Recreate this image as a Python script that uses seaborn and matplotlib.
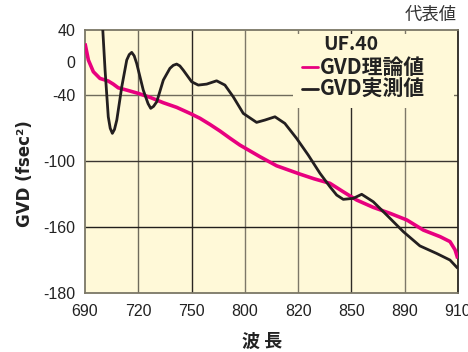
import numpy as np
import pandas as pd
import seaborn as sns
import matplotlib.pyplot as plt
from matplotlib.patches import Rectangle
from matplotlib.lines import Line2D

# Tick labels (the axes are not linear: labels sit on an even grid)
x_ticks = [690, 720, 750, 800, 820, 850, 890, 910]
y_ticks = [-180, -160, -100, -40, 0, 40]
y_tick_pos = [0, 1, 2, 3, 3.5, 4]

# GVD theory (magenta)
theory_wl = [690.0, 691.9, 694.7, 698.4, 703.1, 705.9, 708.7, 713.5, 720.0, 726.6,
             734.1, 741.6, 749.1, 757.9, 767.3, 776.7, 786.0, 795.4, 805.7, 811.9, 821.0,
             829.0, 837.9, 845.4, 853.9, 866.4, 878.9, 890.8, 897.0, 903.3, 907.0, 908.9,
             909.9]
theory_gvd = [23.1, 2.9, -11.3, -19.4, -22.6, -26.3, -30.8, -33.6, -37.6, -41.8,
              -46.7, -50.9, -56.4, -60.9, -66.5, -72.5, -79.0, -85.3, -95.9, -104.1, -111.7,
              -116.0, -120.1, -127.8, -135.3, -142.0, -147.4, -153.5, -160.9, -162.9, -164.4, -166.9,
              -169.5]

# GVD measured (black)
meas_wl = [700.0, 701.3, 703.1, 704.2, 705.4, 706.6, 707.9, 710.7, 713.5, 714.9,
           716.3, 717.7, 719.1, 722.8, 725.5, 727.0, 728.6, 730.4, 734.1, 737.8,
           739.7, 741.6, 743.4, 745.3, 750.1, 756.3, 764.2, 773.5, 781.3, 789.1,
           798.5, 804.4, 807.5, 811.3, 815.0, 819.4, 825.7, 832.3, 837.9, 841.7,
           845.4, 851.4, 857.7, 866.4, 876.5, 889.0, 895.7, 902.0, 907.0, 909.9]
meas_gvd = [40.0, -9.3, -59.5, -70.0, -74.6, -71.0, -62.5, -29.6, 2.9, 9.5,
            12.2, 8.0, -1.2, -33.6, -47.5, -51.8, -50.0, -45.8, -21.4, -7.2,
            -3.5, -2.0, -4.2, -9.3, -23.5, -27.5, -26.3, -22.3, -27.5, -41.3,
            -56.4, -64.6, -62.5, -59.5, -65.5, -79.1, -94.4, -111.0, -123.2, -130.8,
            -134.7, -133.8, -130.1, -136.9, -149.0, -161.4, -165.7, -168.0, -170.0, -172.5]


def to_pos(wl, gvd):
    xp = np.interp(wl, x_ticks, range(len(x_ticks)))
    yp = np.interp(gvd, y_ticks, y_tick_pos)
    return xp, yp


sns.set_theme(style="white")
plt.rcParams["font.family"] = ["Liberation Sans", "DejaVu Sans"]
cjk = ["Noto Sans CJK JP", "DejaVu Sans"]
bg = "#FFF9D8"

fig = plt.figure(figsize=(4.68, 3.52), dpi=100)
ax = fig.add_axes([85 / 468, 1 - 293 / 352, 373 / 468, 263.5 / 352])
ax.set_facecolor(bg)

# grid, drawn by hand (no line at the "0" label)
vcols = ["#6f6b5c", "#2a2622", "#7d7868", "#7d7868", "#2f2b26", "#7d7868"]
for i, c in enumerate(vcols, start=1):
    ax.axvline(i, color=c, lw=1.0, zorder=1)
hcols = {1: "#221f1c", 2: "#3a3630", 3: "#6f6b5c"}
for yv, c in hcols.items():
    ax.axhline(yv, color=c, lw=1.0, zorder=1)

# legend area hides the grid
ax.add_patch(Rectangle((0.558, 0.702), 0.43, 0.28, transform=ax.transAxes,
                       facecolor=bg, edgecolor="none", zorder=1.5))

tx, ty = to_pos(theory_wl, theory_gvd)
mx, my = to_pos(meas_wl, meas_gvd)
sns.lineplot(x=tx, y=ty, ax=ax, color="#E8007F", lw=2.6, estimator=None, sort=False, zorder=3)
sns.lineplot(x=mx, y=my, ax=ax, color="#231F20", lw=2.0, estimator=None, sort=False, zorder=4)
for ln in ax.get_lines():
    ln.set_solid_joinstyle("round")
    ln.set_solid_capstyle("butt")

ax.set_xlim(0, len(x_ticks) - 1)
ax.set_ylim(0, 4)
ax.set_xticks(range(len(x_ticks)))
ax.set_xticklabels([str(v) for v in x_ticks])
ax.set_yticks(y_tick_pos)
ax.set_yticklabels([str(v) for v in y_ticks])
ax.tick_params(axis="x", length=0, pad=8, labelsize=11.5, labelcolor="#222222")
ax.tick_params(axis="y", length=0, pad=7, labelsize=11.5, labelcolor="#222222")
ax.grid(False)
for side, sp in ax.spines.items():
    sp.set_visible(True)
    sp.set_color("#7b7766")
    sp.set_linewidth(1.3)
ax.spines["right"].set_color("#2a2622")

# labels
fig.text(25 / 468, 1 - 174 / 352, "GVD (fsec²)", rotation=90, ha="center", va="center",
         fontsize=12, fontweight="bold", family=["DejaVu Sans"], color="#222222")
fig.text(262 / 468, 1 - 341 / 352, "波 長", ha="center", va="center",
         fontsize=13, fontweight="bold", family=cjk, color="#222222")
fig.text(457 / 468, 1 - 15 / 352, "代表値", ha="right", va="center",
         fontsize=12.5, family=cjk, color="#333333")

# legend block
fig.text(323 / 468, 1 - 45 / 352, "UF.40", ha="left", va="center",
         fontsize=14, fontweight="bold", family=cjk, color="#222222")
fig.text(320 / 468, 1 - 67 / 352, "GVD理論値", ha="left", va="center",
         fontsize=15, fontweight="bold", family=cjk, color="#222222")
fig.text(320 / 468, 1 - 89 / 352, "GVD実測値", ha="left", va="center",
         fontsize=15, fontweight="bold", family=cjk, color="#222222")
fig.add_artist(Line2D([302 / 468, 318 / 468], [1 - 67 / 352, 1 - 67 / 352],
                      color="#E8007F", lw=2.0))
fig.add_artist(Line2D([302 / 468, 318 / 468], [1 - 89 / 352, 1 - 89 / 352],
                      color="#231F20", lw=2.0))

fig.savefig("out.png", dpi=100, facecolor="white")
